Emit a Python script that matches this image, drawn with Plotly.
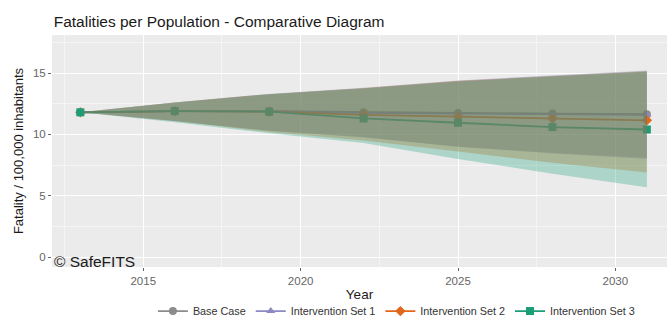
import plotly.graph_objects as go

years = [2013, 2016, 2019, 2022, 2025, 2028, 2031]
series_names = ["Base Case", "Intervention Set 1", "Intervention Set 2", "Intervention Set 3"]

base_mean = [11.8, 11.9, 11.9, 11.8, 11.75, 11.7, 11.65]
set1_mean = [11.8, 11.9, 11.9, 11.75, 11.7, 11.65, 11.6]
set2_mean = [11.8, 11.9, 11.85, 11.6, 11.45, 11.3, 11.15]
set3_mean = [11.8, 11.9, 11.85, 11.3, 10.95, 10.6, 10.4]

base_upper = [11.8, 12.6, 13.3, 13.8, 14.4, 14.8, 15.2]
set1_upper = [11.8, 12.6, 13.3, 13.78, 14.38, 14.78, 15.17]
set2_upper = [11.8, 12.6, 13.28, 13.76, 14.35, 14.75, 15.13]
set3_upper = [11.8, 12.6, 13.27, 13.74, 14.32, 14.72, 15.1]

base_lower = [11.8, 11.1, 10.3, 9.8, 9.0, 8.5, 8.1]
set1_lower = [11.8, 11.1, 10.3, 9.75, 9.0, 8.45, 8.0]
set2_lower = [11.8, 11.1, 10.2, 9.5, 8.6, 7.7, 6.9]
set3_lower = [11.8, 11.0, 10.1, 9.3, 8.0, 6.8, 5.7]

y_ticks = [0, 5, 10, 15]
x_ticks = [2015, 2020, 2025, 2030]

line_colors = ["#8c8c8c", "#8e88c4", "#e0671c", "#1b9e77"]
fill_colors = ["rgba(128,128,128,0.3)", "rgba(117,112,179,0.3)",
               "rgba(217,95,2,0.3)", "rgba(27,158,119,0.3)"]
symbols = ["circle", "triangle-up", "diamond-cross", "square"]

means = [base_mean, set1_mean, set2_mean, set3_mean]
uppers = [base_upper, set1_upper, set2_upper, set3_upper]
lowers = [base_lower, set1_lower, set2_lower, set3_lower]

fig = go.Figure()

for name, m, c, s in zip(series_names, means, line_colors, symbols):
    fig.add_trace(go.Scatter(
        x=years, y=m, name=name, mode="lines+markers",
        line=dict(color=c, width=1.8),
        marker=dict(color=c, size=8, symbol=s),
    ))

for name, lo, up, fc in zip(series_names, lowers, uppers, fill_colors):
    fig.add_trace(go.Scatter(x=years, y=lo, mode="lines", line=dict(width=0),
                             showlegend=False, hoverinfo="skip"))
    fig.add_trace(go.Scatter(x=years, y=up, mode="lines", line=dict(width=0),
                             fill="tonexty", fillcolor=fc,
                             showlegend=False, hoverinfo="skip"))

fig.add_annotation(text="© SafeFITS", xref="paper", yref="paper",
                   x=0.0, y=0.025, xanchor="left", yanchor="middle",
                   showarrow=False, font=dict(size=15.5, color="#1a1a1a"))

fig.update_layout(
    width=671, height=325,
    margin=dict(l=52, r=4, t=35, b=58, autoexpand=False),
    paper_bgcolor="white",
    plot_bgcolor="#EBEBEB",
    font=dict(family="Liberation Sans, Arial, sans-serif", color="#4D4D4D"),
    title=dict(text="Fatalities per Population - Comparative Diagram",
               xref="container", x=0.08, xanchor="left",
               yref="container", y=0.935, yanchor="middle",
               font=dict(size=15.5, color="#1a1a1a")),
    showlegend=True,
    legend=dict(orientation="h", traceorder="normal",
                x=0.56, xanchor="center", y=-0.19, yanchor="middle",
                font=dict(size=10.8, color="#333333"), itemwidth=30,
                tracegroupgap=0, bgcolor="rgba(0,0,0,0)"),
)

fig.update_xaxes(
    range=[2012.1, 2031.64], tickvals=x_ticks, ticktext=[str(v) for v in x_ticks],
    showgrid=True, gridcolor="white", gridwidth=1.2,
    minor=dict(dtick=2.5, tick0=2012.5, showgrid=True, gridcolor="#F5F5F5", gridwidth=0.6),
    zeroline=False, ticks="outside", ticklen=3, tickcolor="#666666",
    tickfont=dict(size=11.5, color="#666666"),
    title=dict(text="Year", font=dict(size=13.5, color="#1a1a1a"), standoff=3),
)
fig.update_yaxes(
    range=[-0.8, 18.1], tickvals=y_ticks, ticktext=[str(v) for v in y_ticks],
    showgrid=True, gridcolor="white", gridwidth=1.2,
    minor=dict(dtick=2.5, tick0=2.5, showgrid=True, gridcolor="#F5F5F5", gridwidth=0.6),
    zeroline=False, ticks="outside", ticklen=3, tickcolor="#666666",
    tickfont=dict(size=11.5, color="#666666"),
    title=dict(text="Fatality / 100,000 inhabitants", font=dict(size=13, color="#1a1a1a"), standoff=6),
)

fig.write_html("out.html", config={"displayModeBar": False},
               post_script="document.body.style.margin='0';document.body.style.overflow='hidden';")
